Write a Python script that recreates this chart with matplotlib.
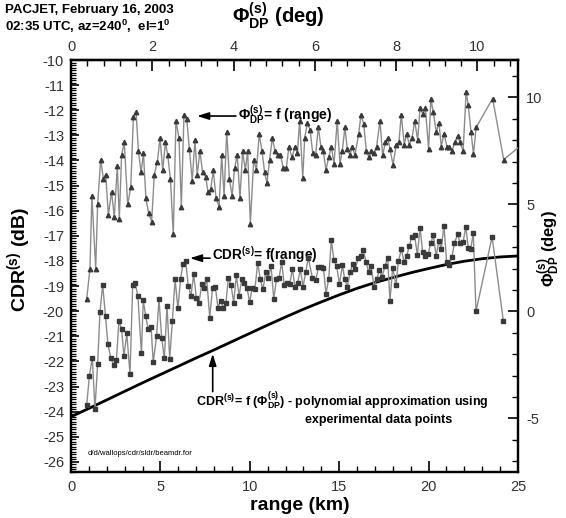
import matplotlib
matplotlib.use('Agg')
import matplotlib.pyplot as plt
from matplotlib.ticker import MultipleLocator

plt.rcParams['font.family'] = ['Liberation Sans', 'DejaVu Sans']
plt.rcParams['mathtext.fontset'] = 'custom'
plt.rcParams['mathtext.rm'] = 'Liberation Sans'
plt.rcParams['mathtext.it'] = 'Liberation Sans:italic'
plt.rcParams['mathtext.bf'] = 'Liberation Sans:bold'
plt.rcParams['mathtext.default'] = 'regular'
plt.rcParams['axes.unicode_minus'] = False

# ---------------- data ----------------
RANGE_LIM = (0, 25)
CDR_LIM = (-26.4, -10)
PHI_RIGHT_LIM = (-7.5, 11.75)
PHI_TOP_MAX = 11.0

# Phi_DP(s) = f(range)  (right axis, deg)
phi_range = [0.88, 1.06, 1.17, 1.38, 1.49, 1.66, 1.81, 1.94, 2.09, 2.27,
             2.42, 2.59, 2.70, 2.83, 2.98, 3.17, 3.34, 3.49, 3.64, 3.77,
             3.92, 4.05, 4.19, 4.34, 4.51, 4.66, 4.83, 4.98, 5.13, 5.28,
             5.41, 5.56, 5.72, 5.87, 6.04, 6.17, 6.32, 6.47, 6.62, 6.78,
             6.93, 7.06, 7.21, 7.36, 7.53, 7.66, 7.81, 7.96, 8.11, 8.28,
             8.43, 8.56, 8.71, 8.86, 9.01, 9.15, 9.30, 9.45, 9.60, 9.75,
             9.88, 10.03, 10.22, 10.37, 10.53, 10.68, 10.83, 10.96, 11.11, 11.26,
             11.41, 11.56, 11.71, 11.88, 12.04, 12.19, 12.36, 12.53, 12.66, 12.79,
             12.96, 13.07, 13.22, 13.37, 13.52, 13.68, 13.83, 13.98, 14.11, 14.26,
             14.41, 14.56, 14.71, 14.89, 15.04, 15.17, 15.32, 15.45, 15.60, 15.73,
             15.88, 16.09, 16.22, 16.37, 16.52, 16.67, 16.79, 16.94, 17.09, 17.28,
             17.43, 17.58, 17.71, 17.84, 18.01, 18.19, 18.34, 18.47, 18.64, 18.77,
             18.92, 19.07, 19.22, 19.39, 19.52, 19.67, 19.82, 20.00, 20.13, 20.26,
             20.43, 20.58, 20.71, 20.86, 21.03, 21.16, 21.31, 21.46, 21.63, 21.76,
             21.93, 22.10, 22.22, 22.37, 22.51, 22.66, 23.58, 24.20, 25.60]
phi_vals = [0.6, 2.0, 5.4, 2.0, 5.0, 7.1, 6.2, 6.4, 4.5, 5.6,
            4.4, 6.8, 4.3, 7.3, 7.9, 5.0, 5.8, 9.1, 9.3, 7.5,
            6.5, 7.4, 5.3, 4.6, 4.2, 6.4, 7.0, 8.1, 6.6, 7.9,
            7.3, 6.2, 3.6, 8.9, 8.1, 4.9, 9.2, 9.0, 7.6, 6.1,
            8.0, 6.4, 7.5, 6.5, 6.3, 5.6, 5.7, 6.6, 5.3, 4.9,
            7.3, 5.4, 8.4, 6.2, 5.4, 6.7, 7.3, 5.3, 7.5, 6.6,
            7.5, 4.1, 7.1, 6.6, 8.3, 7.5, 6.5, 6.0, 7.1, 8.1,
            7.5, 7.3, 7.3, 6.7, 6.7, 7.7, 7.2, 7.7, 7.4, 8.9,
            6.25, 8.1, 8.8, 8.5, 7.4, 7.3, 8.6, 7.7, 7.5, 6.6,
            7.2, 7.7, 6.9, 8.9, 6.9, 7.5, 8.6, 7.6, 7.3, 7.7,
            7.3, 8.3, 9.2, 8.75, 7.5, 7.2, 7.5, 7.4, 7.7, 8.9,
            7.3, 7.9, 8.1, 7.6, 6.85, 7.8, 7.9, 9.2, 7.8, 8.3,
            7.8, 8.1, 8.9, 8.0, 9.5, 9.25, 9.5, 7.6, 9.95, 9.3,
            8.4, 8.8, 7.7, 8.3, 7.7, 7.7, 7.5, 7.9, 8.2, 7.9,
            7.5, 10.25, 9.65, 8.4, 7.35, 8.6, 9.95, 7.1, 8.05]

# CDR(s) = f(range)  (left axis, dB)
cdr_range = [0.88, 1.03, 1.19, 1.34, 1.49, 1.62, 1.77, 1.93, 2.06, 2.23,
             2.39, 2.54, 2.68, 2.83, 2.96, 3.12, 3.30, 3.45, 3.59, 3.74,
             3.94, 4.04, 4.18, 4.32, 4.48, 4.60, 4.79, 4.92, 5.07, 5.22,
             5.37, 5.52, 5.67, 5.82, 5.98, 6.13, 6.26, 6.41, 6.56, 6.71,
             6.86, 7.01, 7.16, 7.31, 7.46, 7.59, 7.76, 7.92, 8.07, 8.22,
             8.37, 8.52, 8.67, 8.80, 8.95, 9.10, 9.25, 9.40, 9.55, 9.69,
             9.84, 9.99, 10.14, 10.29, 10.44, 10.59, 10.74, 10.89, 11.04, 11.19,
             11.34, 11.49, 11.64, 11.78, 11.93, 12.08, 12.23, 12.38, 12.53, 12.68,
             12.83, 12.98, 13.13, 13.27, 13.50, 13.69, 13.84, 13.98, 14.12, 14.26,
             14.41, 14.56, 14.71, 14.86, 15.01, 15.18, 15.31, 15.46, 15.61, 15.76,
             15.90, 16.07, 16.20, 16.35, 16.50, 16.65, 16.78, 16.95, 17.10, 17.25,
             17.40, 17.56, 17.71, 17.84, 17.99, 18.18, 18.31, 18.48, 18.63, 18.78,
             18.91, 19.06, 19.22, 19.37, 19.52, 19.67, 19.82, 19.97, 20.12, 20.27,
             20.42, 20.57, 20.71, 20.86, 21.01, 21.16, 21.31, 21.44, 21.63, 21.76,
             21.93, 22.08, 22.22, 22.36, 22.50, 22.65, 23.55, 24.18]
cdr_vals = [-23.72, -22.57, -21.85, -23.89, -22.10, -20.04, -18.95, -20.19, -21.30, -21.87,
            -22.15, -21.95, -20.40, -20.70, -21.80, -20.88, -22.50, -18.97, -18.88, -19.40,
            -21.68, -19.56, -20.20, -20.72, -20.64, -22.04, -20.98, -19.52, -21.05, -21.88,
            -19.79, -21.90, -20.38, -18.73, -19.89, -18.70, -18.14, -18.00, -18.99, -19.39,
            -18.53, -19.46, -19.66, -18.93, -19.06, -18.73, -20.25, -19.06, -19.02, -19.86,
            -19.59, -19.86, -19.66, -18.66, -18.97, -19.66, -18.57, -19.39, -18.73, -18.86,
            -19.06, -19.63, -19.06, -19.10, -18.07, -18.73, -19.13, -18.44, -18.66, -18.20,
            -19.52, -18.73, -18.66, -18.04, -18.97, -18.86, -18.93, -18.33, -19.02, -18.86,
            -18.33, -19.02, -18.44, -17.87, -18.66, -18.76, -18.24, -18.24, -18.29, -19.30,
            -18.73, -17.17, -17.98, -18.20, -18.93, -18.18, -18.73, -19.02, -18.43, -18.14,
            -18.31, -17.87, -17.81, -17.57, -18.04, -18.44, -18.20, -19.02, -18.73, -18.36,
            -18.63, -18.20, -17.87, -19.59, -18.27, -18.97, -18.00, -17.54, -18.04, -17.81,
            -17.41, -17.04, -16.98, -17.78, -16.68, -17.65, -17.81, -17.74, -17.30, -16.97,
            -17.81, -17.21, -17.51, -16.59, -18.04, -18.18, -17.83, -17.28, -16.94, -17.28,
            -17.25, -16.64, -17.47, -17.51, -16.88, -20.01, -17.04, -20.38]

# CDR(s) = f(Phi_DP(s)) polynomial approximation, sampled along range
poly_range = [0, 1, 2, 3, 4, 5, 6, 7, 8, 9, 10, 11, 12,
              13, 14, 15, 16, 17, 18, 19, 20, 21, 22, 23, 24, 25]
poly_cdr = [-24.20, -23.87, -23.53, -23.19, -22.85, -22.52, -22.19, -21.86, -21.54,
            -21.21, -20.88, -20.55, -20.23, -19.92, -19.63, -19.35, -19.09, -18.86,
            -18.66, -18.47, -18.30, -18.14, -18.01, -17.91, -17.84, -17.80]

# ---------------- figure ----------------
W, H = 566, 518
fig = plt.figure(figsize=(W / 100, H / 100), dpi=100)
L, R, T, B = 71, 518, 60, 472
ax = fig.add_axes([L / W, 1 - B / H, (R - L) / W, (B - T) / H])
ax.set_xlim(*RANGE_LIM)
ax.set_ylim(*CDR_LIM)
axr = ax.twinx()
axr.set_ylim(*PHI_RIGHT_LIM)

line_col = '#8c8c8c'
mk_col = '#3a3a3a'

ax.plot(poly_range, poly_cdr, color='black', lw=2.0, zorder=3)
ax.plot(cdr_range, cdr_vals, color=line_col, lw=1.0, marker='s', ms=2.7,
        mfc=mk_col, mec=mk_col, zorder=4)
axr.plot(phi_range, phi_vals, color=line_col, lw=1.0, marker='^', ms=3.2,
         mfc=mk_col, mec=mk_col, zorder=4)

span = RANGE_LIM[1] - RANGE_LIM[0]
secax = ax.secondary_xaxis('top', functions=(lambda r: r * PHI_TOP_MAX / span,
                                             lambda p: p * span / PHI_TOP_MAX))

# axes styling
for a in (ax, axr, secax):
    for s in a.spines.values():
        s.set_linewidth(1.6)
    a.xaxis.offsetText.set_visible(False)
    a.yaxis.offsetText.set_visible(False)
    a.title.set_visible(False)
    a._left_title.set_visible(False)
    a._right_title.set_visible(False)
secax.yaxis.label.set_visible(False)

ax.xaxis.set_major_locator(MultipleLocator(5))
ax.xaxis.set_minor_locator(MultipleLocator(1))
ax.yaxis.set_major_locator(MultipleLocator(1))
ax.yaxis.set_minor_locator(MultipleLocator(0.1))
ax.tick_params(axis='x', which='major', direction='in', length=8, width=1.2,
               top=False, labelsize=10.5, labelcolor='#333333', pad=6)
ax.tick_params(axis='x', which='minor', direction='in', length=4, width=1.0, top=False)
ax.tick_params(axis='y', which='major', direction='in', length=6, width=1.2,
               right=False, labelsize=10.5, labelcolor='#333333', pad=5)
ax.tick_params(axis='y', which='minor', direction='in', length=3.5, width=0.9, right=False)

axr.yaxis.set_major_locator(MultipleLocator(5))
axr.yaxis.set_minor_locator(MultipleLocator(1))
axr.tick_params(axis='y', which='major', direction='in', length=7, width=1.2,
                labelsize=10.5, labelcolor='#333333', pad=6)
axr.tick_params(axis='y', which='minor', direction='in', length=4, width=1.0)

secax.xaxis.set_major_locator(MultipleLocator(2))
secax.xaxis.set_minor_locator(MultipleLocator(0.4))
secax.tick_params(axis='x', which='major', direction='in', length=8, width=1.2,
                  labelsize=10.5, labelcolor='#333333', pad=4)
secax.tick_params(axis='x', which='minor', direction='in', length=4.5, width=1.0)

# axis labels
fig.text(0.53, 0.025, 'range (km)', ha='center', va='center', fontsize=14, fontweight='bold')
fig.text(0.033, 0.50, 'CDR$^{(s)}$ (dB)', ha='center', va='center', rotation=90,
         fontsize=14, fontweight='bold')
fig.text(0.491, 0.969, r'$\Phi_{DP}^{(s)}$ (deg)', ha='center', va='center',
         fontsize=14.5, fontweight='bold')
fig.text(0.97, 0.52, r'$\Phi_{DP}^{(s)}$ (deg)', ha='center', va='center', rotation=90,
         fontsize=12, fontweight='bold')

# title
fig.text(0.009, 0.992, 'PACJET, February 16, 2003', ha='left', va='top',
         fontsize=9.5, fontweight='bold')
fig.text(0.009, 0.966, '02:35 UTC, az=240$^0$,  el=1$^0$', ha='left', va='top',
         fontsize=9.5, fontweight='bold')

# annotations
arrow = dict(arrowstyle='-|>,head_length=0.7,head_width=0.22', color='black', lw=1.2,
             shrinkA=0, shrinkB=0)
ax.annotate('', xy=(0.282, 0.864), xytext=(0.369, 0.864), xycoords='axes fraction',
            textcoords='axes fraction', arrowprops=arrow)
ax.text(0.374, 0.866, r'$\Phi_{DP}^{(s)}$= f (range)', transform=ax.transAxes,
        ha='left', va='center', fontsize=10, fontweight='bold')

ax.annotate('', xy=(0.266, 0.519), xytext=(0.311, 0.519), xycoords='axes fraction',
            textcoords='axes fraction', arrowprops=arrow)
ax.text(0.315, 0.529, 'CDR$^{(s)}$= f(range)', transform=ax.transAxes,
        ha='left', va='center', fontsize=9.8, fontweight='bold')

ax.annotate('', xy=(0.317, 0.287), xytext=(0.317, 0.195), xycoords='axes fraction',
            textcoords='axes fraction', arrowprops=arrow)
ax.text(0.279, 0.173, r'CDR$^{(s)}$= f ($\Phi_{DP}^{(s)}$) - polynomial approximation using',
        transform=ax.transAxes, ha='left', va='center', fontsize=9, fontweight='bold')
ax.text(0.5235, 0.126, 'experimental data points', transform=ax.transAxes,
        ha='left', va='center', fontsize=9, fontweight='bold')

ax.text(0.038, 0.044, 'd/d/wallops/cdr/sldr/beamdr.for', transform=ax.transAxes,
        ha='left', va='center', fontsize=5.5)

fig.savefig('out.png', dpi=100)
